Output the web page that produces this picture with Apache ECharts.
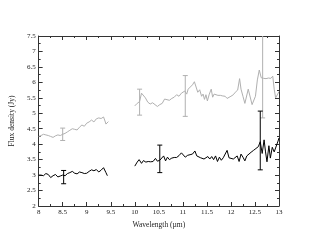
<!DOCTYPE html>
<html><head><meta charset="utf-8">
<script src="https://cdn.jsdelivr.net/npm/echarts@6/dist/echarts.min.js"></script>
<style>html,body{margin:0;padding:0;background:#fff}#c{width:314px;height:243px}</style>
</head><body><div id="c"></div>
<script>
const xTicks = [8, 8.5, 9, 9.5, 10, 10.5, 11, 11.5, 12, 12.5, 13];
const yTicks = [2, 2.5, 3, 3.5, 4, 4.5, 5, 5.5, 6, 6.5, 7, 7.5];

const grayW1 = [8.00,8.05,8.10,8.15,8.20,8.25,8.30,8.35,8.40,8.45,8.50,8.55,8.60,8.65,8.70,8.75,8.80,8.85,8.90,8.95,9.00,9.05,9.10,9.15,9.20,9.25,9.30,9.35,9.38,9.40,9.45];
const grayF1 = [4.25,4.28,4.32,4.30,4.28,4.25,4.22,4.27,4.30,4.28,4.32,4.35,4.40,4.45,4.50,4.48,4.46,4.55,4.62,4.58,4.68,4.72,4.78,4.72,4.82,4.85,4.83,4.88,4.75,4.65,4.73];

const grayW2 = [10.00,10.05,10.10,10.14,10.18,10.22,10.27,10.32,10.37,10.42,10.47,10.52,10.57,10.62,10.67,10.72,10.77,10.82,10.87,10.92,10.97,11.00,11.04,11.08,11.11,11.15,11.20,11.24,11.27,11.31,11.35,11.39,11.42,11.45,11.48,11.51,11.55,11.59,11.62,11.65,11.69,11.73,11.78,11.83,11.88,11.92,11.96,12.00,12.05,12.09,12.14,12.18,12.21,12.25,12.29,12.32,12.36,12.40,12.44,12.47,12.51,12.55,12.59,12.63,12.68,12.73,12.78,12.83,12.87,12.90,12.93,12.96,13.00];
const grayF2 = [5.24,5.32,5.38,5.65,5.62,5.50,5.36,5.30,5.34,5.28,5.22,5.28,5.32,5.46,5.44,5.42,5.48,5.52,5.60,5.55,5.65,5.60,5.72,5.62,5.78,5.72,5.92,6.02,5.96,5.68,5.76,5.55,5.62,5.45,5.60,5.40,5.62,5.78,5.52,5.62,5.60,5.58,5.58,5.56,5.55,5.48,5.42,5.55,5.60,5.68,5.75,6.12,5.78,5.55,5.32,5.36,5.78,5.75,5.28,5.26,5.55,6.08,6.40,6.15,6.13,6.12,6.14,6.13,6.20,5.78,5.50,5.45,5.70];

const blackW1 = [8.00,8.05,8.10,8.15,8.20,8.25,8.30,8.35,8.40,8.45,8.50,8.55,8.60,8.65,8.70,8.75,8.80,8.85,8.90,8.95,9.00,9.05,9.10,9.15,9.20,9.25,9.30,9.35,9.40,9.43];
const blackF1 = [3.00,3.00,2.98,3.05,3.02,2.92,2.98,3.02,2.94,2.97,3.00,2.98,3.05,3.08,3.12,3.06,3.04,3.10,3.08,3.05,3.06,3.12,3.17,3.14,3.18,3.10,3.16,3.24,3.08,2.98];

const blackW2 = [10.00,10.05,10.09,10.14,10.18,10.23,10.28,10.33,10.38,10.43,10.47,10.52,10.56,10.60,10.64,10.68,10.72,10.77,10.82,10.87,10.92,10.97,11.01,11.05,11.10,11.15,11.20,11.25,11.29,11.33,11.37,11.40,11.44,11.48,11.52,11.56,11.60,11.64,11.68,11.72,11.76,11.80,11.84,11.88,11.92,11.96,12.00,12.05,12.09,12.13,12.17,12.21,12.25,12.29,12.33,12.37,12.42,12.47,12.52,12.57,12.61,12.65,12.69,12.72,12.75,12.79,12.82,12.86,12.90,12.94,12.98,13.00];
const blackF2 = [3.29,3.42,3.50,3.38,3.47,3.42,3.44,3.43,3.44,3.54,3.45,3.48,3.42,3.62,3.46,3.58,3.50,3.55,3.57,3.57,3.63,3.72,3.78,3.58,3.64,3.66,3.68,3.78,3.62,3.58,3.56,3.54,3.52,3.58,3.60,3.52,3.60,3.50,3.62,3.44,3.58,3.48,3.56,3.52,3.80,3.56,3.58,3.52,3.48,3.62,3.44,3.68,3.58,3.46,3.62,3.68,3.74,3.80,3.86,3.92,4.08,3.70,4.14,3.75,3.43,3.95,3.55,3.90,3.75,3.80,4.10,4.20];

const grayErrW = [8.5, 10.1, 11.05, 12.66];
const grayErrLo = [4.12, 4.94, 4.90, 4.85];
const grayErrHi = [4.52, 5.78, 6.22, 7.80];
const blackErrW = [8.52, 10.52, 12.61];
const blackErrLo = [2.72, 3.08, 3.17];
const blackErrHi = [3.15, 3.97, 5.07];

const GRAY = '#b0b0b0';
const FONT = 'Liberation Serif';

function zip(a, b) { return a.map((v, i) => [v, b[i]]); }
function errData(w, lo, hi) { return w.map((v, i) => [v, lo[i], hi[i]]); }

function errRender(color) {
  return function (params, api) {
    const x = api.value(0);
    const lo = api.coord([x, api.value(1)]);
    const hi = api.coord([x, api.value(2)]);
    const hw = 2.5;
    const style = { stroke: color, lineWidth: 1 };
    return {
      type: 'group',
      children: [
        { type: 'line', shape: { x1: lo[0], y1: lo[1], x2: hi[0], y2: hi[1] }, style },
        { type: 'line', shape: { x1: lo[0] - hw, y1: lo[1], x2: lo[0] + hw, y2: lo[1] }, style },
        { type: 'line', shape: { x1: hi[0] - hw, y1: hi[1], x2: hi[0] + hw, y2: hi[1] }, style }
      ]
    };
  };
}

const axisCommon = {
  type: 'value',
  axisLine: { show: true, lineStyle: { color: '#333', width: 1 } },
  axisTick: { show: true, inside: true, length: 4, lineStyle: { color: '#333' } },
  minorTick: { show: true, splitNumber: 2, length: 2, lineStyle: { color: '#333' } },
  splitLine: { show: false },
};

const chart = echarts.init(document.getElementById('c'), null, { renderer: 'canvas' });
chart.setOption({
  animation: false,
  backgroundColor: '#fff',
  grid: { left: 36, right: 35, top: 36, bottom: 37 },
  xAxis: [
    Object.assign({}, axisCommon, {
      position: 'bottom', min: xTicks[0], max: xTicks[xTicks.length - 1], interval: 0.5,
      name: 'Wavelength (µm)', nameLocation: 'middle', nameGap: 9,
      nameTextStyle: { fontFamily: FONT, fontSize: 7.5, color: '#222' },
      axisLabel: { fontFamily: FONT, fontSize: 7, color: '#222', margin: 3,
        formatter: v => String(v) }
    }),
    Object.assign({}, axisCommon, {
      position: 'top', min: xTicks[0], max: xTicks[xTicks.length - 1], interval: 0.5,
      axisLabel: { show: false }
    })
  ],
  yAxis: [
    Object.assign({}, axisCommon, {
      position: 'left', min: yTicks[0], max: yTicks[yTicks.length - 1], interval: 0.5,
      name: 'Flux density (Jy)', nameLocation: 'middle', nameGap: 11, nameRotate: 90,
      nameTextStyle: { fontFamily: FONT, fontSize: 7.5, color: '#222' },
      axisLabel: { fontFamily: FONT, fontSize: 7, color: '#222', margin: 3,
        formatter: v => String(v) }
    }),
    Object.assign({}, axisCommon, {
      position: 'right', min: yTicks[0], max: yTicks[yTicks.length - 1], interval: 0.5,
      axisLabel: { show: false }
    })
  ],
  series: [
    { type: 'custom', renderItem: errRender(GRAY), data: errData(grayErrW, grayErrLo, grayErrHi), clip: true, z: 1 },
    { type: 'line', data: zip(grayW1, grayF1), showSymbol: false, lineStyle: { color: GRAY, width: 1 }, z: 2 },
    { type: 'line', data: zip(grayW2, grayF2), showSymbol: false, lineStyle: { color: GRAY, width: 1 }, z: 2 },
    { type: 'line', data: zip(blackW1, blackF1), showSymbol: false, lineStyle: { color: '#000', width: 1 }, z: 3 },
    { type: 'line', data: zip(blackW2, blackF2), showSymbol: false, lineStyle: { color: '#000', width: 1 }, z: 3 },
    { type: 'custom', renderItem: errRender('#000'), data: errData(blackErrW, blackErrLo, blackErrHi), clip: true, z: 4 }
  ]
});
</script>
</body></html>
